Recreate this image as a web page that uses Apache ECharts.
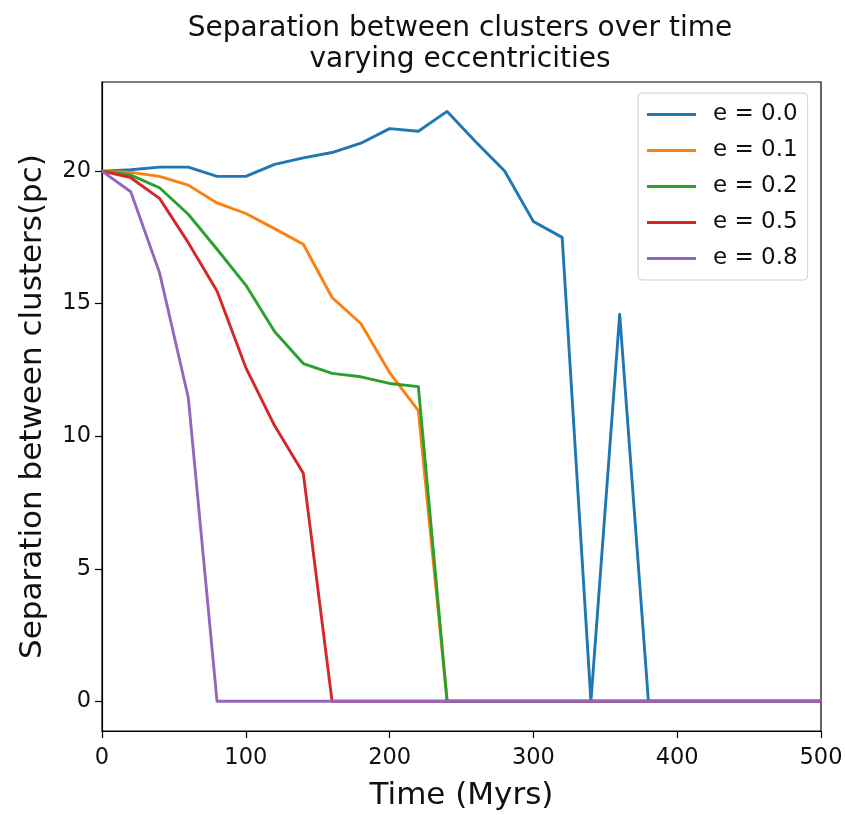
<!DOCTYPE html>
<html>
<head>
<meta charset="utf-8">
<script src="https://cdn.jsdelivr.net/npm/echarts@6/dist/echarts.min.js"></script>
<style>
  html, body { margin: 0; padding: 0; background: #fff; }
  #chart { width: 845px; height: 815px; }
</style>
</head>
<body>
<div id="chart"></div>
<script>
// time in Myrs, one sample every 20 Myrs
const times = [0, 20, 40, 60, 80, 100, 120, 140, 160, 180, 200, 220, 240,
  260, 280, 300, 320, 340, 360, 380, 400, 420, 440, 460, 480, 500];

// separation between the clusters (pc) for each eccentricity
const sepE00 = [20, 20.05, 20.15, 20.15, 19.8, 19.8, 20.25, 20.5, 20.7, 21.05, 21.6, 21.5, 22.25,
  21.1, 20.0, 18.1, 17.5, 0, 14.6, 0, 0, 0, 0, 0, 0, 0];
const sepE01 = [20, 19.95, 19.8, 19.47, 18.8, 18.4, 17.83, 17.24, 15.23, 14.25, 12.4, 10.96, 0,
  0, 0, 0, 0, 0, 0, 0, 0, 0, 0, 0, 0, 0];
const sepE02 = [20, 19.85, 19.37, 18.37, 17.05, 15.7, 13.95, 12.74, 12.37, 12.24, 11.99, 11.87, 0,
  0, 0, 0, 0, 0, 0, 0, 0, 0, 0, 0, 0, 0];
const sepE05 = [20, 19.75, 18.97, 17.3, 15.48, 12.59, 10.4, 8.6, 0, 0, 0, 0, 0,
  0, 0, 0, 0, 0, 0, 0, 0, 0, 0, 0, 0, 0];
const sepE08 = [20, 19.22, 16.17, 11.46, 0, 0, 0, 0, 0, 0, 0, 0, 0,
  0, 0, 0, 0, 0, 0, 0, 0, 0, 0, 0, 0, 0];

const seriesNames = ['e = 0.0', 'e = 0.1', 'e = 0.2', 'e = 0.5', 'e = 0.8'];
const seriesValues = [sepE00, sepE01, sepE02, sepE05, sepE08];
const colors = ['#1f77b4', '#ff7f0e', '#2ca02c', '#d62728', '#9467bd'];

const yTicks = [0, 5, 10, 15, 20];

const font = 'DejaVu Sans';

function pairs(values) {
  return times.map((t, i) => [t, values[i]]);
}

const chart = echarts.init(document.getElementById('chart'), null, { renderer: 'canvas' });

const option = {
  backgroundColor: '#fff',
  animation: false,
  color: colors,
  title: {
    text: 'Separation between clusters over time\nvarying eccentricities',
    left: 455,
    top: 8,
    textAlign: 'center',
    textStyle: {
      fontFamily: font,
      fontSize: 28,
      fontWeight: 'normal',
      color: '#111',
      lineHeight: 31
    }
  },
  legend: {
    orient: 'vertical',
    left: 638,
    top: 93,
    data: seriesNames,
    icon: 'rect',
    itemWidth: 49,
    itemHeight: 3,
    itemGap: 13,
    padding: [10, 10, 10, 9],
    backgroundColor: '#fff',
    borderColor: '#d0d0d0',
    borderWidth: 1,
    borderRadius: 4,
    textStyle: {
      fontFamily: font,
      fontSize: 23,
      color: '#111',
      padding: [0, 0, 0, 12],
      lineHeight: 23
    }
  },
  grid: {
    left: 102,
    right: 24,
    top: 82,
    bottom: 84,
    show: true,
    borderColor: '#000',
    borderWidth: 1.2,
    containLabel: false,
    outerBoundsMode: 'none'
  },
  xAxis: {
    type: 'value',
    min: 0,
    max: 500,
    interval: 100,
    name: 'Time (Myrs)',
    nameLocation: 'middle',
    nameGap: 49,
    nameTextStyle: { fontFamily: font, fontSize: 31, color: '#111' },
    axisLine: { show: true, onZero: false, lineStyle: { color: '#000', width: 1.2 } },
    axisTick: { show: true, length: 7, lineStyle: { color: '#000', width: 1.2 } },
    axisLabel: { fontFamily: font, fontSize: 22.5, color: '#111', margin: 16 },
    splitLine: { show: false }
  },
  yAxis: {
    type: 'value',
    min: -1.12,
    max: 23.36,
    name: 'Separation between clusters(pc)',
    nameLocation: 'middle',
    nameGap: 54,
    nameTextStyle: { fontFamily: font, fontSize: 31, color: '#111' },
    axisLine: { show: true, onZero: false, lineStyle: { color: '#000', width: 1.2 } },
    axisTick: { show: true, length: 7, customValues: yTicks, lineStyle: { color: '#000', width: 1.2 } },
    axisLabel: { fontFamily: font, fontSize: 22.5, color: '#111', margin: 11, customValues: yTicks },
    splitLine: { show: false }
  },
  series: seriesNames.map((name, i) => ({
    name: name,
    type: 'line',
    data: pairs(seriesValues[i]),
    showSymbol: false,
    symbol: 'none',
    lineStyle: { width: 2.9, color: colors[i], join: 'round' },
    itemStyle: { color: colors[i] },
    clip: true
  }))
};

chart.setOption(option);
</script>
</body>
</html>
